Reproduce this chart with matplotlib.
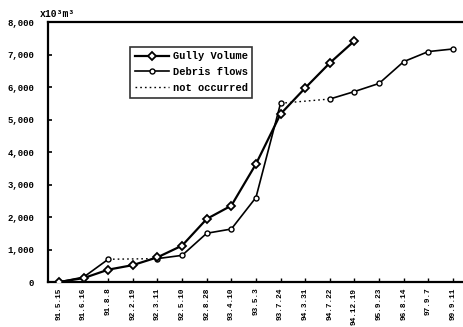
import numpy as np
import matplotlib
matplotlib.use("Agg")
import matplotlib.pyplot as plt

dates = ["91.5.15", "91.6.16", "91.8.8", "92.2.19", "92.3.11", "92.5.10", "92.8.28",
         "93.4.10", "93.5.3", "93.7.24", "94.3.31", "94.7.22", "94.12.19", "95.9.23",
         "96.8.14", "97.9.7", "99.9.11"]
gully = [0, 120, 380, 520, 760, 1120, 1940, 2350, 3630, 5170, 5970, 6740, 7420,
         np.nan, np.nan, np.nan, np.nan]
debris = [0, 150, 700, np.nan, 720, 820, 1500, 1630, 2600, 5500, np.nan, 5630, 5860,
          6110, 6780, 7090, 7170]
yticks = [0, 1000, 2000, 3000, 4000, 5000, 6000, 7000, 8000]

font = "Liberation Mono"
plt.rcParams['font.family'] = [font, 'DejaVu Sans']
plt.rcParams['font.weight'] = 'bold'

fig = plt.figure(figsize=(4.63, 3.27), dpi=100)
ax = fig.add_axes([0.1037, 0.1376, 0.8963, 0.7951])

x = np.arange(len(dates))
g = np.array(gully, dtype=float)
d = np.array(debris, dtype=float)

# not-occurred dotted connectors
first = True
for i in range(len(d)):
    if np.isnan(d[i]) and i > 0 and i < len(d) - 1:
        j0 = i - 1
        j1 = i + 1
        while j1 < len(d) and np.isnan(d[j1]):
            j1 += 1
        if j1 < len(d) and not np.isnan(d[j0]):
            ax.plot([x[j0], x[j1]], [d[j0], d[j1]], color='black', lw=1.0,
                    linestyle=(0, (1.2, 2.2)),
                    label='not occurred' if first else None, zorder=2)
            first = False

ax.plot(x, g, color='black', lw=1.6, marker='D', markersize=4.5,
        markerfacecolor='white', markeredgecolor='black', markeredgewidth=1.3,
        label='Gully Volume', zorder=4)
ax.plot(x, d, color='black', lw=1.2, marker='o', markersize=3.6,
        markerfacecolor='white', markeredgecolor='black', markeredgewidth=1.0,
        label='Debris flows', zorder=3)

ax.set_xlim(-0.446, 16.41)
ax.set_ylim(0, 8000)
ax.set_yticks(yticks)
ax.set_yticklabels([f"{v:,}" for v in yticks], fontsize=6.5, fontweight='bold')
ax.set_xticks(x)
ax.set_xticklabels(dates, rotation=90, fontsize=5.6, fontweight='bold', va='top')
ax.tick_params(axis='y', direction='in', length=3, width=1.2, pad=10)
ax.tick_params(axis='x', direction='in', length=3, width=1.0, pad=4)
for s in ['left', 'bottom', 'top']:
    ax.spines[s].set_linewidth(1.6)
ax.spines['right'].set_visible(False)

fig.text(0.086, 0.958, "x10³m³", fontsize=7, fontweight='bold', ha='left', va='center')

h, l = ax.get_legend_handles_labels()
order = [l.index('Gully Volume'), l.index('Debris flows'), l.index('not occurred')]
leg = ax.legend([h[i] for i in order], [l[i] for i in order],
                loc='upper left', bbox_to_anchor=(0.186, 0.925),
                frameon=True, fancybox=False, handlelength=3.3,
                handletextpad=0.3, borderpad=0.45, labelspacing=0.55,
                prop={'family': font, 'weight': 'bold', 'size': 7.5})
leg.get_frame().set_edgecolor('black')
leg.get_frame().set_linewidth(1.2)

fig.savefig("out.png", dpi=100)
